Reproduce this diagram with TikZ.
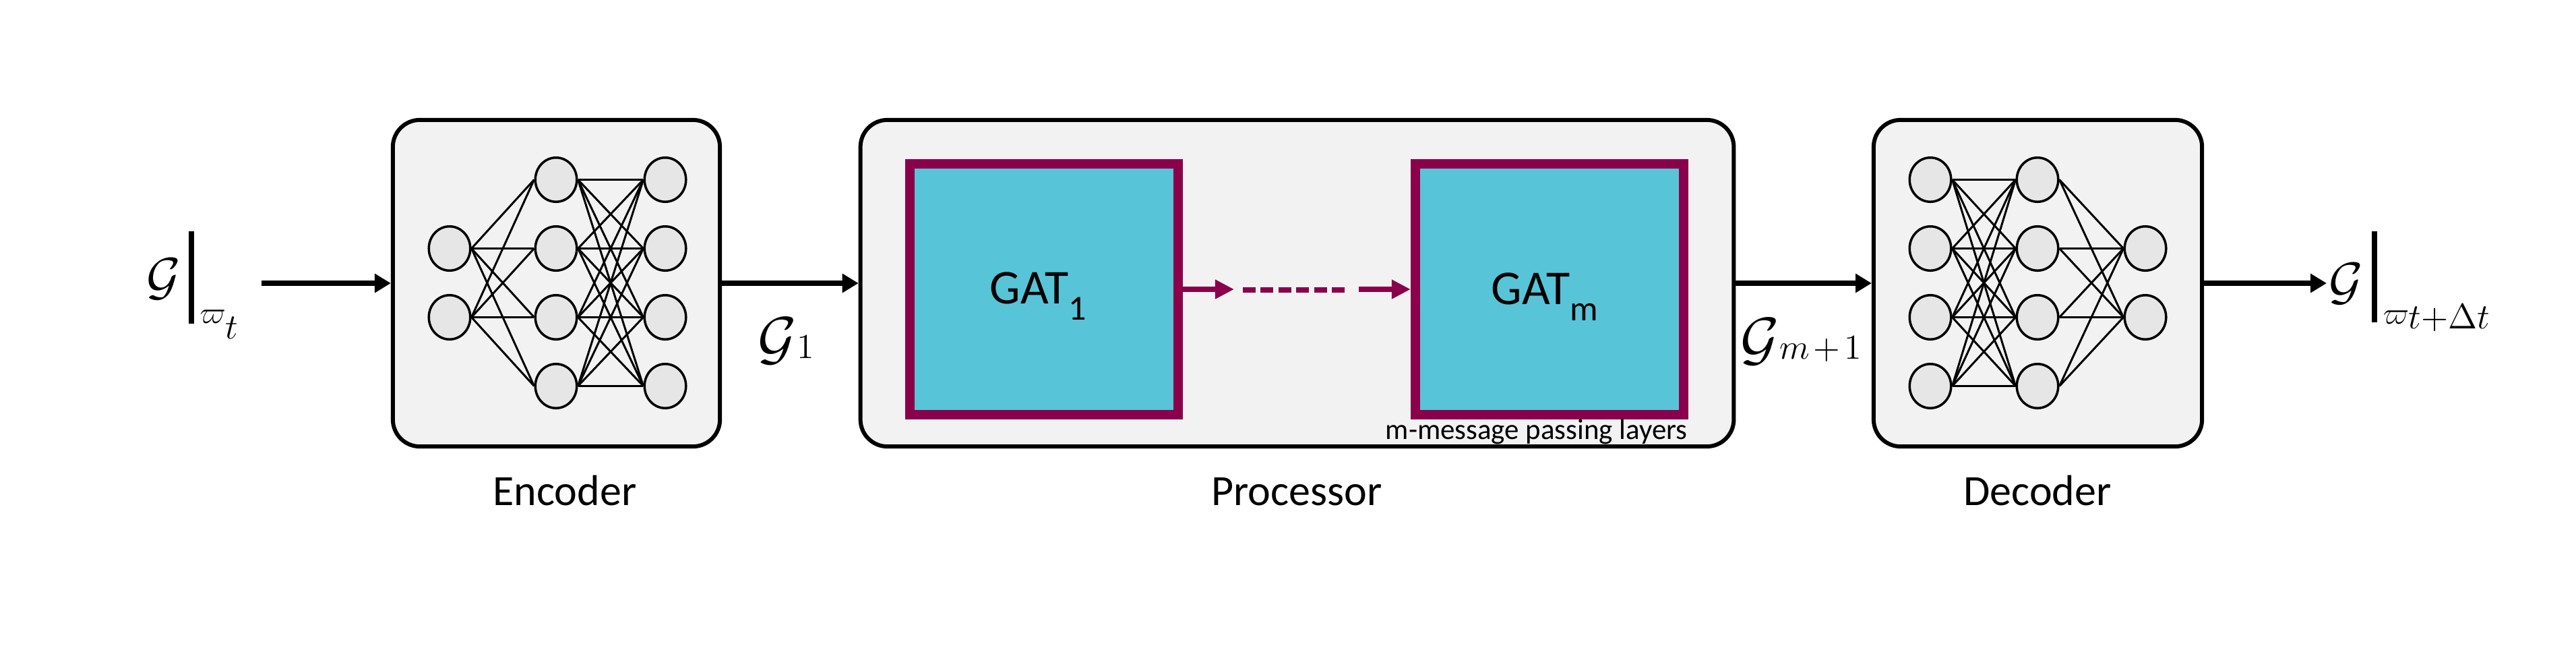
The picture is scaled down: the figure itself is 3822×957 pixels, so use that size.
\RequirePackage{fix-cm}
\documentclass[tikz,border=0pt]{standalone}
\usepackage[no-math]{fontspec}
\setmainfont{Carlito}
\usetikzlibrary{arrows.meta,shapes.geometric}
\definecolor{boxgray}{HTML}{F2F2F2}
\definecolor{neurongray}{HTML}{E7E6E6}
\definecolor{gatcyan}{HTML}{58C4D7}
\definecolor{gatred}{HTML}{8A004B}
\begin{document}
\begin{tikzpicture}[x=0.01cm,y=-0.01cm,
  blockbox/.style={draw=black, line width=1.7pt, fill=boxgray, rounded corners=0.4cm,
    minimum height=4.84cm, inner sep=0pt},
  neuron/.style={ellipse, draw=black, line width=1pt, fill=neurongray,
    minimum width=0.615cm, minimum height=0.655cm, inner sep=0pt},
  link/.style={line width=0.85pt},
  flow/.style={line width=2pt, -{Triangle[length=6.8pt,width=7.7pt]}},
  gatbox/.style={draw=gatred, line width=4pt, fill=gatcyan,
    minimum width=3.98cm, minimum height=3.71cm, inner sep=0pt},
  gatflow/.style={draw=gatred, line width=2.3pt, -{Triangle[length=8pt,width=7.7pt]}},
  gatdash/.style={draw=gatred, line width=2pt, dash pattern=on 5.4pt off 2.1pt},
  caption/.style={font=\fontsize{18.2}{22}\selectfont, anchor=base, inner sep=0pt},
  gattext/.style={anchor=base west, inner sep=0pt},
  mathlabel/.style={inner sep=0pt},
  evalbar/.style={line width=2.2pt}
]
\useasboundingbox (0,0) rectangle (3822,957);

% main blocks
\node[blockbox, minimum width=4.85cm] (enc) at (825.5,420) {};
\node[blockbox, minimum width=12.95cm] (proc) at (1924.5,420) {};
\node[blockbox, minimum width=4.87cm] (dec) at (3023.5,420) {};

% encoder network
\foreach \i/\y in {1/368.5,2/470.5} \node[neuron] (ea\i) at (667,\y) {};
\foreach \i/\y in {1/266.5,2/368.5,3/470.5,4/572.5} {
  \node[neuron] (eb\i) at (825,\y) {};
  \node[neuron] (ec\i) at (987,\y) {};
}
\foreach \i in {1,2} \foreach \j in {1,...,4} \draw[link] (ea\i.east) -- (eb\j.west);
\foreach \i in {1,...,4} \foreach \j in {1,...,4} \draw[link] (eb\i.east) -- (ec\j.west);

% decoder network
\foreach \i/\y in {1/266.5,2/368.5,3/470.5,4/572.5} {
  \node[neuron] (da\i) at (2864,\y) {};
  \node[neuron] (db\i) at (3023,\y) {};
}
\foreach \i/\y in {1/368.5,2/470.5} \node[neuron] (dc\i) at (3183,\y) {};
\foreach \i in {1,...,4} \foreach \j in {1,...,4} \draw[link] (da\i.east) -- (db\j.west);
\foreach \i in {1,...,4} \foreach \j in {1,2} \draw[link] (db\i.east) -- (dc\j.west);

% GAT layers
\node[gatbox] (gat1) at (1549,429) {};
\node[gatbox] (gatm) at (2299,429) {};
\node[gattext] (gat1t) at (1468,450) {{\fontsize{20.5}{24}\selectfont GAT}\raisebox{-7.1pt}{\fontsize{14.8}{18}\selectfont 1}};
\node[gattext] (gatmt) at (2212,451) {{\fontsize{20.5}{24}\selectfont GAT}\raisebox{-7.1pt}{\fontsize{14.8}{18}\selectfont m}};
\coordinate (ga1) at (1831,429);
\coordinate (gd1) at (1844,430);
\coordinate (gd2) at (1995,430);
\coordinate (ga2) at (2016,429);
\draw[gatflow] (gat1.east) -- (ga1);
\draw[gatdash] (gd1) -- (gd2);
\draw[gatflow] (ga2) -- (gatm.west);
\node[anchor=base west, inner sep=0pt, font=\fontsize{12.2}{14}\selectfont] (mmp) at (2055,651) {m-message passing layers};

% captions
\node[caption] (enct) at (838,749) {Encoder};
\node[caption] (proct) at (1924,749) {Processor};
\node[caption] (dect) at (3023,749) {Decoder};

% flow arrows
\coordinate (inS) at (388,420);
\coordinate (outE) at (3452,420);
\draw[flow] (inS) -- (enc.west);
\draw[flow] (enc.east) -- (proc.west);
\draw[flow] (proc.east) -- (dec.west);
\draw[flow] (dec.east) -- (outE);

% input label
\node[mathlabel, anchor=base] (gin) at (243,436) {\fontsize{22}{26}\selectfont$\mathcal{G}$};
\coordinate (bin1) at (284,343);
\coordinate (bin2) at (284,480);
\draw[evalbar] (bin1) -- (bin2);
\node[mathlabel, anchor=base west] (sin) at (296,479) {{\fontsize{13}{15}\selectfont$\varpi$}\raisebox{-6.8pt}{\fontsize{15}{18}\selectfont$t$}};

% G1 label
\node[mathlabel, anchor=base west] (g1) at (1124,531) {{\fontsize{25}{30}\selectfont$\mathcal{G}$}{\fontsize{14.8}{18}\selectfont$1$}};
% Gm+1 label
\node[mathlabel, anchor=base west] (gm) at (2582,532) {{\fontsize{25}{30}\selectfont$\mathcal{G}$}{\fontsize{14.8}{18}\selectfont$m\mkern2mu{+}\mkern2mu1$}};

% output label
\node[mathlabel, anchor=base] (gout) at (3481,443) {\fontsize{22}{26}\selectfont$\mathcal{G}$};
\coordinate (bout1) at (3523,343);
\coordinate (bout2) at (3523,478);
\draw[evalbar] (bout1) -- (bout2);
\node[mathlabel, anchor=base west] (sout) at (3535,480) {{\fontsize{13}{15}\selectfont$\varpi$}\raisebox{-2pt}{\fontsize{15}{18}\selectfont$t{+}\Delta t$}};
\end{tikzpicture}
\end{document}
